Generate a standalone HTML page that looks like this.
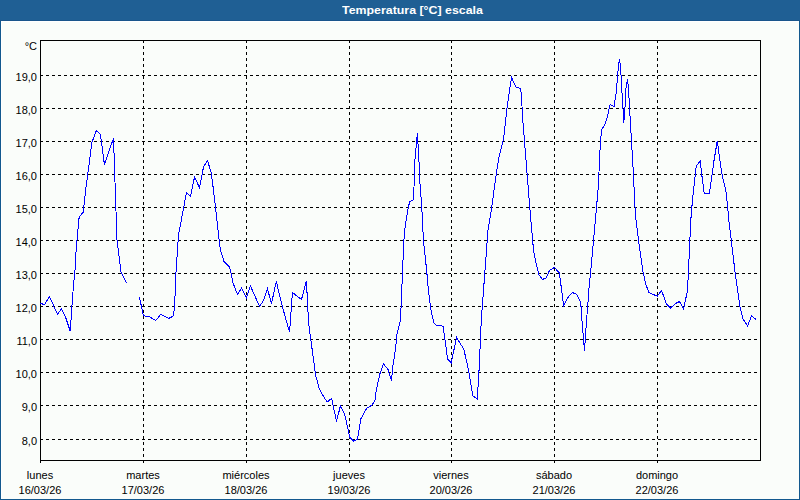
<!DOCTYPE html>
<html><head><meta charset="utf-8"><style>
html,body{margin:0;padding:0;}
body{width:800px;height:500px;overflow:hidden;position:relative;background:#fafdfa;font-family:"Liberation Sans",sans-serif;}
#frame{position:absolute;left:0;top:0;width:798px;height:498px;border:1px solid #12588e;}
#inner{position:absolute;left:1px;top:21px;width:797px;height:477px;border-left:1px solid #fff;border-top:1px solid #fff;}
#hdr{position:absolute;left:0;top:0;width:800px;height:20px;background:#1f5f94;border-bottom:1px solid #19558c;}
#title{position:absolute;left:342px;top:3px;color:#fff;font-weight:bold;font-size:11px;line-height:14px;transform:scaleX(1.125);transform-origin:0 0;white-space:nowrap;}
svg{position:absolute;left:0;top:0;}
.g{stroke:#000;stroke-width:1;stroke-dasharray:3 3;shape-rendering:crispEdges;}
.gv{stroke:#000;stroke-width:1;stroke-dasharray:3 3;shape-rendering:crispEdges;}
.d{fill:none;stroke:#0000ff;stroke-width:1;shape-rendering:crispEdges;}
.yl{position:absolute;right:763px;font-size:11px;line-height:14px;color:#000;white-space:nowrap;}
.xl{position:absolute;width:100px;text-align:center;font-size:11px;line-height:15px;color:#000;}
</style></head><body>
<div id="frame"></div>
<div id="inner"></div>
<div id="hdr"></div>
<div id="title">Temperatura [°C] escala</div>
<svg width="800" height="500" viewBox="0 0 800 500" shape-rendering="crispEdges">
<line x1="40" y1="439.5" x2="760" y2="439.5" class="g"/>
<line x1="40" y1="405.5" x2="760" y2="405.5" class="g"/>
<line x1="40" y1="372.5" x2="760" y2="372.5" class="g"/>
<line x1="40" y1="339.5" x2="760" y2="339.5" class="g"/>
<line x1="40" y1="306.5" x2="760" y2="306.5" class="g"/>
<line x1="40" y1="273.5" x2="760" y2="273.5" class="g"/>
<line x1="40" y1="240.5" x2="760" y2="240.5" class="g"/>
<line x1="40" y1="207.5" x2="760" y2="207.5" class="g"/>
<line x1="40" y1="174.5" x2="760" y2="174.5" class="g"/>
<line x1="40" y1="141.5" x2="760" y2="141.5" class="g"/>
<line x1="40" y1="108.5" x2="760" y2="108.5" class="g"/>
<line x1="40" y1="75.5" x2="760" y2="75.5" class="g"/>
<line x1="143.5" y1="40" x2="143.5" y2="460" class="gv"/>
<line x1="246.5" y1="40" x2="246.5" y2="460" class="gv"/>
<line x1="349.5" y1="40" x2="349.5" y2="460" class="gv"/>
<line x1="451.5" y1="40" x2="451.5" y2="460" class="gv"/>
<line x1="554.5" y1="40" x2="554.5" y2="460" class="gv"/>
<line x1="657.5" y1="40" x2="657.5" y2="460" class="gv"/>
<rect x="40.5" y="40.5" width="720" height="420" fill="none" stroke="#000" stroke-width="1"/>
<line x1="40.5" y1="460" x2="40.5" y2="463" stroke="#000"/>
<line x1="143.5" y1="460" x2="143.5" y2="463" stroke="#000"/>
<line x1="246.5" y1="460" x2="246.5" y2="463" stroke="#000"/>
<line x1="349.5" y1="460" x2="349.5" y2="463" stroke="#000"/>
<line x1="451.5" y1="460" x2="451.5" y2="463" stroke="#000"/>
<line x1="554.5" y1="460" x2="554.5" y2="463" stroke="#000"/>
<line x1="657.5" y1="460" x2="657.5" y2="463" stroke="#000"/>
<polyline class="d" points="40.50,303.50 44.50,304.50 49.50,296.50 57.50,314.50 61.50,308.50 66.00,318.50 70.25,331.25 72.50,298.00 73.60,284.00 75.00,270.00 76.10,250.00 77.90,230.00 79.20,216.70 83.30,212.20 84.20,203.20 86.00,187.00 88.20,170.80 91.90,142.50 96.45,130.25 100.40,134.10 104.40,164.40 113.50,138.30 117.00,240.00 121.00,272.00 126.40,283.00"/>
<polyline class="d" points="139.40,297.10 143.50,315.90 148.40,316.25 155.90,320.40 160.75,314.20 168.60,318.50 173.50,315.90 174.60,306.00 175.50,285.00 176.00,272.50 178.50,235.00 186.50,192.50 190.50,196.20 194.50,177.20 199.50,187.50 203.50,167.00 207.50,160.50 211.00,172.00 213.50,190.00 219.50,243.00 220.50,250.00 224.00,261.50 229.50,267.00 231.00,273.00 233.00,283.00 237.50,294.50 241.50,288.00 246.50,297.50 250.50,286.00 259.50,306.50 263.50,300.50 267.50,289.00 271.50,303.50 276.30,281.30 281.90,305.00 289.60,332.40 292.40,292.50 301.50,299.50 306.40,280.60 308.50,321.00 309.50,330.00 315.60,375.00 319.10,388.30 323.30,396.00 327.20,402.10 331.60,398.25 336.50,421.40 340.40,406.00 344.80,414.75 349.75,437.30 353.60,441.20 357.50,439.00 360.75,419.00 366.80,408.00 371.75,405.40 375.00,400.50 376.30,390.00 379.90,373.90 383.50,364.00 388.00,369.40 391.60,381.00 392.50,368.50 395.40,350.00 397.00,334.00 400.20,321.20 401.00,308.40 402.60,270.00 403.40,251.00 404.20,235.00 405.80,222.00 408.20,207.80 409.80,201.40 413.80,199.80 414.20,174.60 415.00,159.40 417.40,133.00 419.00,161.80 419.80,181.00 421.80,207.80 423.40,239.80 426.60,270.00 428.20,287.60 430.60,308.40 433.80,322.80 436.20,325.20 443.10,326.20 447.60,359.10 451.20,362.70 456.60,337.50 463.80,349.20 468.30,369.00 472.80,396.00 477.30,398.80 479.10,369.00 481.30,320.00 488.00,230.00 491.70,207.60 496.20,174.30 498.90,157.20 503.60,139.00 507.50,104.00 511.50,77.50 516.00,87.00 520.50,88.50 521.50,95.00 522.40,115.00 530.40,215.00 533.50,250.00 536.30,264.00 539.10,275.20 542.60,279.40 546.10,278.00 549.60,270.30 554.50,267.50 559.40,273.10 561.50,289.20 563.60,306.00 567.80,297.60 572.20,292.50 576.70,294.30 580.30,301.50 581.20,307.80 582.10,322.20 583.00,333.00 584.50,351.00 585.70,333.00 587.50,307.80 588.40,297.00 589.30,283.50 590.40,275.00 598.50,185.00 599.60,155.80 600.60,140.60 601.50,130.20 605.30,123.50 607.20,117.00 610.20,104.50 614.00,106.70 616.20,92.50 617.70,74.50 618.50,65.50 619.50,58.75 620.70,68.50 621.50,85.00 623.00,109.00 623.70,123.00 624.50,116.50 626.00,88.00 627.50,79.00 628.50,89.50 633.00,167.00 635.40,215.00 639.00,244.00 643.00,272.00 646.00,285.00 649.00,292.50 653.00,294.50 657.50,296.00 661.50,290.50 666.50,304.00 670.50,308.00 675.50,303.50 679.50,301.50 683.50,309.00 687.00,293.00 688.00,280.50 689.90,240.00 690.80,220.00 692.60,198.60 694.40,182.40 696.20,166.20 700.20,160.80 701.60,173.40 704.30,194.00 709.50,193.00 712.20,173.20 714.00,160.60 717.30,140.80 719.40,157.00 722.10,175.00 725.70,189.50 727.50,205.70 728.80,220.00 735.40,275.00 739.90,306.20 743.00,318.80 747.60,326.00 751.60,315.70 755.70,319.30"/>
</svg>
<div class="yl" style="top:39px">°C</div>
<div class="yl" style="top:434px">8,0</div>
<div class="yl" style="top:400px">9,0</div>
<div class="yl" style="top:367px">10,0</div>
<div class="yl" style="top:334px">11,0</div>
<div class="yl" style="top:301px">12,0</div>
<div class="yl" style="top:268px">13,0</div>
<div class="yl" style="top:235px">14,0</div>
<div class="yl" style="top:202px">15,0</div>
<div class="yl" style="top:169px">16,0</div>
<div class="yl" style="top:136px">17,0</div>
<div class="yl" style="top:103px">18,0</div>
<div class="yl" style="top:70px">19,0</div>
<div class="xl" style="left:-10px;top:468px">lunes<br>16/03/26</div>
<div class="xl" style="left:93px;top:468px">martes<br>17/03/26</div>
<div class="xl" style="left:196px;top:468px">miércoles<br>18/03/26</div>
<div class="xl" style="left:299px;top:468px">jueves<br>19/03/26</div>
<div class="xl" style="left:401px;top:468px">viernes<br>20/03/26</div>
<div class="xl" style="left:504px;top:468px">sábado<br>21/03/26</div>
<div class="xl" style="left:607px;top:468px">domingo<br>22/03/26</div>
</body></html>
